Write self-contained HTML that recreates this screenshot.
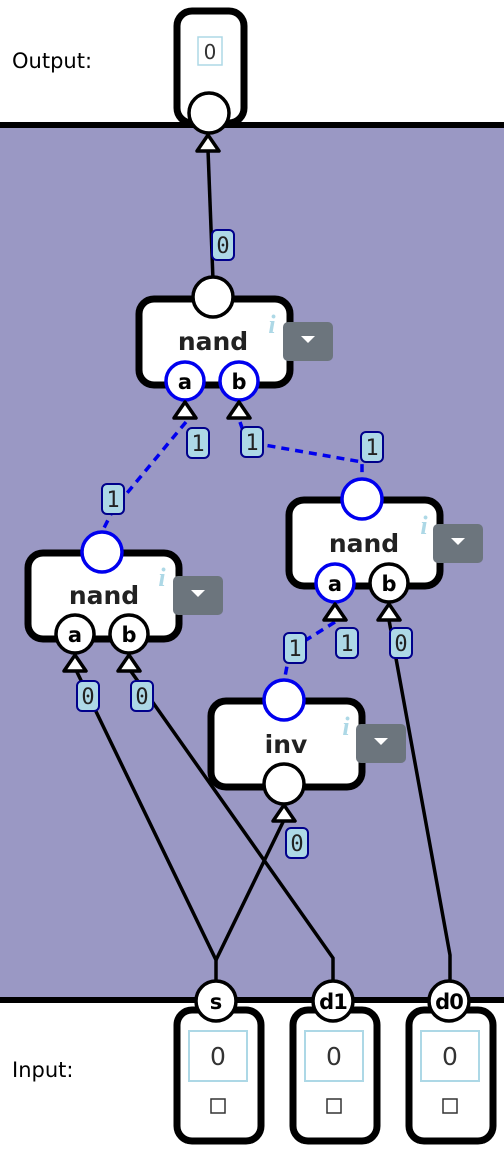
<!DOCTYPE html>
<html><head><meta charset="utf-8"><style>
html,body{margin:0;padding:0;background:#fff}
svg{display:block}
.t{font-family:"DejaVu Sans","Liberation Sans",sans-serif}
.m{font-family:"DejaVu Sans Mono","Liberation Mono",monospace}
</style></head><body>
<svg width="504" height="1156" viewBox="0 0 504 1156" xmlns="http://www.w3.org/2000/svg">
<defs>
<g id="lbl"><rect x="-11" y="-15" width="22" height="30" rx="5" fill="#add8e6" stroke="#00008b" stroke-width="2"/></g>
<g id="dd"><rect x="0" y="0" width="50" height="39" rx="5" fill="#6c757d"/><path d="M18 14 L32 14 L25 21 Z" fill="#fff"/></g>
<g id="arr"><path d="M-11 8 L0 -8 L11 8 Z" fill="#fff" stroke="#000" stroke-width="3.5" stroke-linejoin="round"/></g>
</defs>
<rect x="0" y="125" width="504" height="875" fill="#9a98c4"/>
<line x1="0" y1="125" x2="504" y2="125" stroke="#000" stroke-width="6"/>
<line x1="0" y1="1000" x2="504" y2="1000" stroke="#000" stroke-width="6"/>
<text x="12" y="68" class="t" font-size="21" fill="#000">Output:</text>
<text x="12" y="1077" class="t" font-size="21" fill="#000">Input:</text>

<rect x="177" y="11" width="67" height="112" rx="15" fill="#fff" stroke="#000" stroke-width="7"/>
<rect x="198" y="37" width="24" height="28" fill="#fff" stroke="#add8e6" stroke-width="1.5"/>
<text x="210" y="59" class="t" font-size="20" text-anchor="middle" fill="#333">0</text>

<g stroke="#000" stroke-width="3.5" fill="none">
<path d="M208 150 L213 280"/>
<path d="M389 620 L450 955 L450 980"/>
<path d="M76 670 L216 960 L216 980"/>
<path d="M130 670 L333 958 L333 980"/>
<path d="M284 820 L216 960"/>
</g>
<g stroke="#0000ee" stroke-width="3.5" fill="none" stroke-dasharray="8,6">
<path d="M186 422 L113 510 L102 532"/>
<path d="M240 422 L247 442 L362 462 L362 480"/>
<path d="M335 622 L290 650 L284 682"/>
</g>

<circle cx="209" cy="113" r="20" fill="#fff" stroke="#000" stroke-width="3.5"/>
<use href="#arr" x="208" y="143"/>

<rect x="139" y="299" width="151" height="86" rx="15" fill="#fff" stroke="#000" stroke-width="7"/>
<circle cx="213" cy="297" r="20" fill="#fff" stroke="#000" stroke-width="3.5"/>
<text x="213" y="350" class="t" font-size="25" font-weight="bold" text-anchor="middle" fill="#222">nand</text>
<text x="272" y="333" font-family="Liberation Serif,serif" font-style="italic" font-weight="bold" font-size="26" fill="#add8e6" text-anchor="middle">i</text>
<use href="#dd" x="283" y="322"/>
<circle cx="185" cy="381" r="19" fill="#fff" stroke="#0000ee" stroke-width="3.5"/>
<circle cx="239" cy="381" r="19" fill="#fff" stroke="#0000ee" stroke-width="3.5"/>
<text x="185" y="389" class="t" font-size="21" font-weight="bold" text-anchor="middle">a</text>
<text x="239" y="389" class="t" font-size="21" font-weight="bold" text-anchor="middle">b</text>
<use href="#arr" x="185" y="410"/><use href="#arr" x="239" y="410"/>

<rect x="28" y="553" width="151" height="86" rx="15" fill="#fff" stroke="#000" stroke-width="7"/>
<circle cx="102" cy="552" r="20" fill="#fff" stroke="#0000ee" stroke-width="3.5"/>
<text x="104" y="604" class="t" font-size="25" font-weight="bold" text-anchor="middle" fill="#222">nand</text>
<text x="162" y="586" font-family="Liberation Serif,serif" font-style="italic" font-weight="bold" font-size="26" fill="#add8e6" text-anchor="middle">i</text>
<use href="#dd" x="173" y="576"/>
<circle cx="75" cy="634" r="19" fill="#fff" stroke="#000" stroke-width="3.5"/>
<circle cx="129" cy="634" r="19" fill="#fff" stroke="#000" stroke-width="3.5"/>
<text x="75" y="642" class="t" font-size="21" font-weight="bold" text-anchor="middle">a</text>
<text x="129" y="642" class="t" font-size="21" font-weight="bold" text-anchor="middle">b</text>
<use href="#arr" x="75" y="663"/><use href="#arr" x="129" y="663"/>

<rect x="289" y="500" width="151" height="86" rx="15" fill="#fff" stroke="#000" stroke-width="7"/>
<circle cx="362" cy="499" r="20" fill="#fff" stroke="#0000ee" stroke-width="3.5"/>
<text x="364" y="552" class="t" font-size="25" font-weight="bold" text-anchor="middle" fill="#222">nand</text>
<text x="424" y="534" font-family="Liberation Serif,serif" font-style="italic" font-weight="bold" font-size="26" fill="#add8e6" text-anchor="middle">i</text>
<use href="#dd" x="433" y="524"/>
<circle cx="335" cy="583" r="19" fill="#fff" stroke="#0000ee" stroke-width="3.5"/>
<circle cx="389" cy="583" r="19" fill="#fff" stroke="#000" stroke-width="3.5"/>
<text x="335" y="591" class="t" font-size="21" font-weight="bold" text-anchor="middle">a</text>
<text x="389" y="591" class="t" font-size="21" font-weight="bold" text-anchor="middle">b</text>
<use href="#arr" x="335" y="612"/><use href="#arr" x="389" y="612"/>

<rect x="211" y="701" width="151" height="86" rx="15" fill="#fff" stroke="#000" stroke-width="7"/>
<circle cx="284" cy="700" r="20" fill="#fff" stroke="#0000ee" stroke-width="3.5"/>
<text x="286" y="753" class="t" font-size="25" font-weight="bold" text-anchor="middle" fill="#222">inv</text>
<text x="346" y="735" font-family="Liberation Serif,serif" font-style="italic" font-weight="bold" font-size="26" fill="#add8e6" text-anchor="middle">i</text>
<use href="#dd" x="356" y="724"/>
<circle cx="284" cy="784" r="20" fill="#fff" stroke="#000" stroke-width="3.5"/>
<use href="#arr" x="284" y="813"/>

<g class="m" font-size="22" text-anchor="middle" fill="#222">
<use href="#lbl" x="223" y="245"/><text x="223" y="253">0</text>
<use href="#lbl" x="198" y="443"/><text x="198" y="451">1</text>
<use href="#lbl" x="113" y="499"/><text x="113" y="507">1</text>
<use href="#lbl" x="252" y="442"/><text x="252" y="450">1</text>
<use href="#lbl" x="372" y="447"/><text x="372" y="455">1</text>
<use href="#lbl" x="347" y="643"/><text x="347" y="651">1</text>
<use href="#lbl" x="295" y="648"/><text x="295" y="656">1</text>
<use href="#lbl" x="401" y="643"/><text x="401" y="651">0</text>
<use href="#lbl" x="88" y="696"/><text x="88" y="704">0</text>
<use href="#lbl" x="142" y="696"/><text x="142" y="704">0</text>
<use href="#lbl" x="297" y="843"/><text x="297" y="851">0</text>
</g>

<g>
<rect x="177" y="1010" width="84" height="131" rx="15" fill="#fff" stroke="#000" stroke-width="7"/>
<rect x="189" y="1031" width="58" height="50" fill="#fff" stroke="#add8e6" stroke-width="2"/>
<text x="218" y="1065" class="t" font-size="25" text-anchor="middle" fill="#333">0</text>
<rect x="211" y="1099" width="14" height="14" fill="#fff" stroke="#333" stroke-width="1.5"/>
<circle cx="216" cy="1001" r="20" fill="#fff" stroke="#000" stroke-width="3.5"/>
<text x="216" y="1009" class="t" font-size="21" font-weight="bold" text-anchor="middle">s</text>

<rect x="293" y="1010" width="84" height="131" rx="15" fill="#fff" stroke="#000" stroke-width="7"/>
<rect x="305" y="1031" width="58" height="50" fill="#fff" stroke="#add8e6" stroke-width="2"/>
<text x="334" y="1065" class="t" font-size="25" text-anchor="middle" fill="#333">0</text>
<rect x="327" y="1099" width="14" height="14" fill="#fff" stroke="#333" stroke-width="1.5"/>
<circle cx="333" cy="1001" r="20" fill="#fff" stroke="#000" stroke-width="3.5"/>
<text x="333" y="1009" class="t" font-size="21" font-weight="bold" text-anchor="middle" letter-spacing="-1">d1</text>

<rect x="409" y="1010" width="84" height="131" rx="15" fill="#fff" stroke="#000" stroke-width="7"/>
<rect x="421" y="1031" width="58" height="50" fill="#fff" stroke="#add8e6" stroke-width="2"/>
<text x="450" y="1065" class="t" font-size="25" text-anchor="middle" fill="#333">0</text>
<rect x="443" y="1099" width="14" height="14" fill="#fff" stroke="#333" stroke-width="1.5"/>
<circle cx="449" cy="1001" r="20" fill="#fff" stroke="#000" stroke-width="3.5"/>
<text x="449" y="1009" class="t" font-size="21" font-weight="bold" text-anchor="middle" letter-spacing="-1">d0</text>
</g>
</svg>
</body></html>
